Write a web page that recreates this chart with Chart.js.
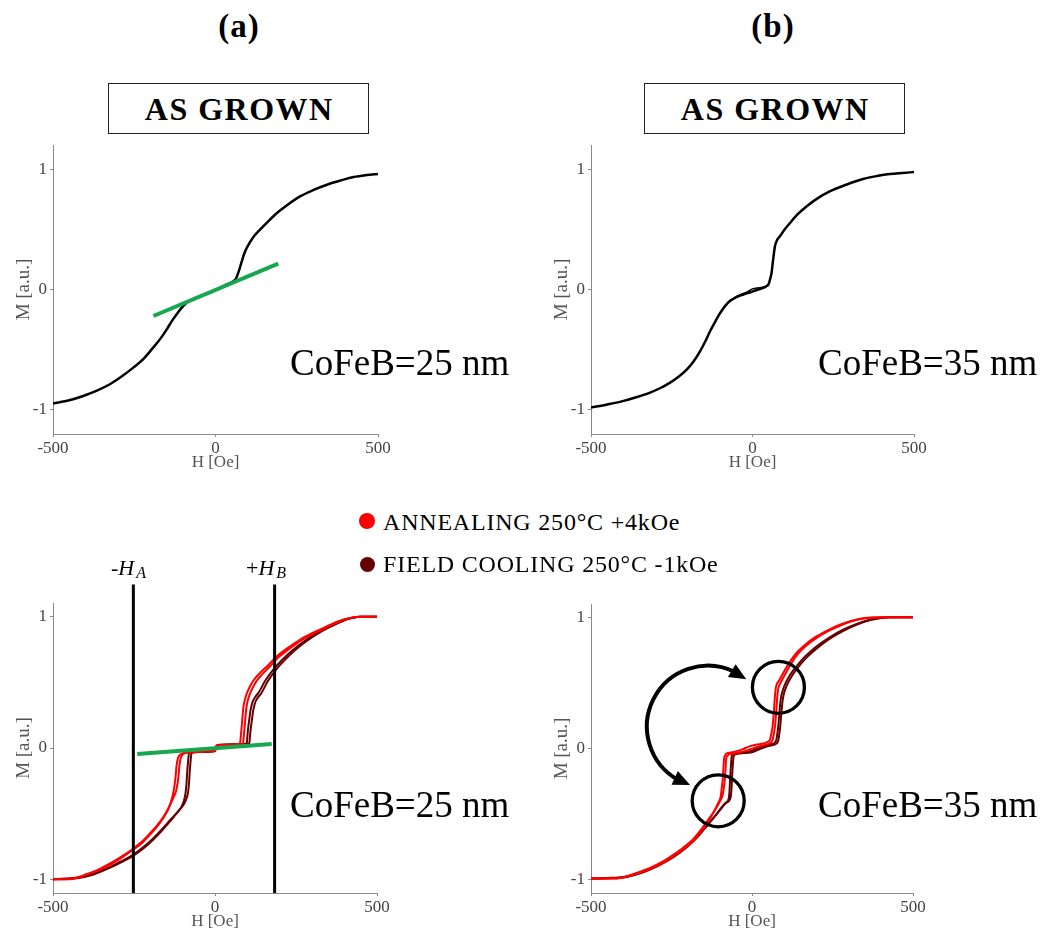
<!DOCTYPE html>
<html>
<head>
<meta charset="utf-8">
<script src="https://cdn.jsdelivr.net/npm/chart.js@4.4.1/dist/chart.umd.min.js"></script>
<style>
  body { margin: 0; background: #fff; }
  #fig { position: relative; width: 1046px; height: 937px; font-family: "Liberation Serif", serif; color: #000; overflow: hidden; }
  #fig canvas { position: absolute; }
  .lbl { position: absolute; white-space: nowrap; line-height: 1; }
  .panel { font-weight: bold; font-size: 33px; letter-spacing: 1px; transform: translate(-50%, -50%); }
  .tag { position: absolute; top: 83px; width: 261px; height: 51px; box-sizing: border-box; border: 1.3px solid #222;
         display: flex; align-items: center; justify-content: center; font-weight: bold; font-size: 32px;
         letter-spacing: 1.5px; padding-left: 1.5px; line-height: 1; }
  .sample { font-size: 37px; }
  .leg { font-size: 24px; letter-spacing: 0.8px; }
  .dot { position: absolute; border-radius: 50%; }
  .mark { font-size: 22px; }
  .mark i { font-style: italic; letter-spacing: 2px; }
  .mark sub { font-size: 16px; font-style: italic; position: relative; top: 3px; vertical-align: baseline; }
</style>
</head>
<body>
<div id="fig">
  <div class="lbl panel" style="left:239px;top:26px">(a)</div>
  <div class="lbl panel" style="left:773px;top:26px">(b)</div>
  <div class="tag" style="left:108px">AS GROWN</div>
  <div class="tag" style="left:644px">AS GROWN</div>

  <canvas id="grownA" width="400" height="344" style="left:0;top:130px"></canvas>
  <canvas id="grownB" width="400" height="344" style="left:538px;top:130px"></canvas>
  <canvas id="treatedA" width="400" height="393" style="left:0;top:540px"></canvas>
  <canvas id="treatedB" width="405" height="393" style="left:538px;top:540px"></canvas>

  <div class="lbl sample" style="left:290px;top:344px">CoFeB=25 nm</div>
  <div class="lbl sample" style="left:818px;top:344px">CoFeB=35 nm</div>
  <div class="lbl sample" style="left:290px;top:786px">CoFeB=25 nm</div>
  <div class="lbl sample" style="left:818px;top:786px">CoFeB=35 nm</div>

  <div class="dot" style="left:359px;top:513px;width:16px;height:16px;background:#ff0000"></div>
  <div class="lbl leg" style="left:383px;top:510px">ANNEALING 250°C +4kOe</div>
  <div class="dot" style="left:360px;top:557px;width:15px;height:15px;background:#650000"></div>
  <div class="lbl leg" style="left:383px;top:552px">FIELD COOLING 250°C -1kOe</div>

  <div class="lbl mark" style="left:111px;top:557px">-<i>H</i><sub>A</sub></div>
  <div class="lbl mark" style="left:246px;top:557px">+<i>H</i><sub>B</sub></div>
</div>

<script>
// axis ticks
const fieldTicks = [-500, 0, 500];
const magTicks = [-1, 0, 1];

// as grown, 25 nm
const grown25H = [-500, -450, -407, -365, -325, -290, -253, -220, -192, -170, -150, -135, -120, -105, -89, -70, -48, -25, -7, 10, 24, 40, 55, 63, 70, 76, 81, 88, 96, 115, 137, 160, 189, 220, 260, 300, 343, 385, 425, 465, 500];
const grown25M = [-0.947, -0.92, -0.884, -0.84, -0.787, -0.725, -0.649, -0.572, -0.483, -0.41, -0.331, -0.265, -0.207, -0.155, -0.11, -0.08, -0.055, -0.035, -0.014, 0.008, 0.028, 0.048, 0.069, 0.09, 0.138, 0.19, 0.235, 0.295, 0.345, 0.43, 0.497, 0.56, 0.635, 0.7, 0.773, 0.825, 0.87, 0.905, 0.934, 0.95, 0.959];

// as grown, 35 nm (main branch + small return branch near zero)
const grown35H = [-500, -450, -399, -360, -317, -285, -255, -228, -203, -182, -162, -146, -131, -118, -106, -95, -85, -72, -59, -43, -28, -12, 3, 18, 33, 45, 50, 55, 59, 64, 69.5, 76, 85, 100, 116, 140, 167, 200, 239, 290, 342, 385, 425, 465, 500];
const grown35M = [-0.981, -0.955, -0.925, -0.895, -0.856, -0.818, -0.773, -0.722, -0.663, -0.595, -0.511, -0.43, -0.345, -0.28, -0.221, -0.175, -0.138, -0.1, -0.077, -0.055, -0.041, -0.028, -0.014, 0.0, 0.014, 0.03, 0.045, 0.09, 0.138, 0.25, 0.359, 0.41, 0.442, 0.5, 0.552, 0.625, 0.69, 0.755, 0.815, 0.87, 0.917, 0.942, 0.959, 0.968, 0.975];
const grown35RetH = [-60, -40, -20, 0, 20, 40, 52];
const grown35RetM = [-0.072, -0.045, -0.025, 0.005, 0.015, 0.025, 0.045];

// annealing 250°C +4kOe, 25 nm (two branches)
const anneal25H = [-500, -448, -397, -360, -325, -290, -253, -225, -201, -180, -160, -145, -134, -128, -124, -121, -119, -114, -107, -80, -46, -10, 0, 5, 40, 77, 80, 82.5, 85, 88, 95, 103, 118, 139, 165, 191, 225, 263, 295, 325, 360, 397, 425, 449, 500];
const anneal25M = [-0.995, -0.995, -0.962, -0.928, -0.886, -0.835, -0.772, -0.72, -0.658, -0.6, -0.532, -0.47, -0.392, -0.33, -0.266, -0.2, -0.139, -0.075, -0.05, -0.03, -0.025, -0.02, -0.013, 0.02, 0.025, 0.033, 0.1, 0.165, 0.24, 0.316, 0.39, 0.443, 0.51, 0.57, 0.63, 0.696, 0.76, 0.823, 0.865, 0.899, 0.94, 0.975, 0.99, 0.995, 0.995];
const anneal25RetH = [-500, -448, -397, -360, -325, -290, -253, -225, -201, -180, -160, -145, -130, -120, -115, -112, -110, -105, -98, -80, -46, -10, 0, 5, 40, 86, 89, 91.5, 94, 97, 104, 112, 126, 146, 170, 195, 228, 265, 297, 327, 362, 398, 425, 449, 500];
const anneal25RetM = [-0.995, -0.993, -0.958, -0.922, -0.878, -0.826, -0.764, -0.71, -0.648, -0.59, -0.525, -0.462, -0.385, -0.325, -0.26, -0.195, -0.135, -0.07, -0.045, -0.035, -0.03, -0.025, -0.02, 0.015, 0.02, 0.028, 0.095, 0.16, 0.235, 0.31, 0.385, 0.435, 0.5, 0.56, 0.62, 0.686, 0.75, 0.815, 0.858, 0.894, 0.936, 0.972, 0.99, 0.995, 0.995];

// field cooling 250°C -1kOe, 25 nm
const cool25H = [-500, -450, -407, -365, -325, -290, -253, -220, -191, -165, -139, -118, -103, -96, -91, -88, -86, -83, -80, -40, 0, 5, 50, 98, 100, 103, 106, 110, 116, 125, 134, 155, 180, 210, 242, 278, 314, 355, 397, 425, 449, 500];
const cool25M = [-0.995, -0.99, -0.98, -0.95, -0.91, -0.868, -0.818, -0.76, -0.696, -0.63, -0.557, -0.495, -0.443, -0.4, -0.342, -0.27, -0.19, -0.1, -0.038, -0.03, -0.025, 0.018, 0.025, 0.033, 0.09, 0.165, 0.22, 0.291, 0.35, 0.39, 0.418, 0.51, 0.595, 0.675, 0.747, 0.815, 0.873, 0.925, 0.97, 0.988, 0.995, 0.995];
const cool25RetH = [-500, -450, -407, -365, -325, -290, -253, -220, -191, -165, -139, -115, -98, -89, -83, -80, -78, -75, -72, -40, 0, 5, 50, 106, 108, 111, 114, 118, 124, 133, 142, 162, 186, 215, 246, 281, 317, 357, 398, 425, 449, 500];
const cool25RetM = [-0.995, -0.99, -0.977, -0.945, -0.904, -0.86, -0.81, -0.75, -0.686, -0.62, -0.547, -0.485, -0.435, -0.39, -0.335, -0.26, -0.18, -0.09, -0.035, -0.028, -0.022, 0.02, 0.028, 0.036, 0.09, 0.16, 0.215, 0.285, 0.345, 0.385, 0.412, 0.502, 0.587, 0.667, 0.74, 0.808, 0.867, 0.92, 0.967, 0.987, 0.995, 0.995];

// annealing, 35 nm
const anneal35H = [-500, -419, -380, -347, -310, -275, -245, -213, -185, -161, -140, -120, -106, -97, -94, -91, -89, -87, -83, -79, -65, -48, -28, -6, 15, 35, 48, 56, 60, 64, 67, 69, 71, 74, 85, 97, 115, 138, 165, 200, 235, 273, 310, 345, 380, 407, 500];
const anneal35M = [-0.99, -0.99, -0.97, -0.944, -0.91, -0.868, -0.822, -0.767, -0.71, -0.64, -0.57, -0.489, -0.42, -0.362, -0.3, -0.235, -0.16, -0.084, -0.05, -0.038, -0.03, -0.02, -0.005, 0.018, 0.03, 0.038, 0.05, 0.068, 0.11, 0.17, 0.25, 0.32, 0.39, 0.461, 0.52, 0.575, 0.65, 0.727, 0.79, 0.853, 0.9, 0.942, 0.972, 0.992, 0.998, 1.0, 1.0];
const anneal35RetH = [-500, -419, -380, -347, -310, -275, -245, -213, -185, -161, -140, -117, -101, -91, -87, -84, -82, -80, -76, -72, -60, -45, -25, -4, 17, 37, 55, 63, 67, 71, 74, 76, 78, 81, 91, 103, 120, 142, 168, 203, 238, 276, 312, 347, 381, 407, 500];
const anneal35RetM = [-0.99, -0.988, -0.966, -0.938, -0.902, -0.858, -0.81, -0.754, -0.696, -0.626, -0.556, -0.476, -0.41, -0.352, -0.29, -0.225, -0.15, -0.075, -0.055, -0.045, -0.04, -0.035, -0.022, -0.005, 0.012, 0.025, 0.04, 0.06, 0.1, 0.16, 0.24, 0.31, 0.38, 0.45, 0.51, 0.565, 0.64, 0.718, 0.782, 0.846, 0.895, 0.938, 0.97, 0.99, 0.998, 1.0, 1.0];

// field cooling, 35 nm
const cool35H = [-500, -450, -399, -360, -326, -290, -254, -222, -192, -165, -140, -118, -99, -85, -73, -70, -68, -66, -63, -58, -48, -30, -6, 15, 35, 55, 70, 76, 79, 81.6, 85, 89, 94, 102, 118, 138, 165, 200, 240, 283, 325, 366, 400, 428, 500];
const cool35M = [-0.99, -0.987, -0.982, -0.96, -0.932, -0.892, -0.843, -0.79, -0.729, -0.662, -0.59, -0.525, -0.463, -0.42, -0.387, -0.33, -0.235, -0.15, -0.058, -0.04, -0.033, -0.028, -0.02, -0.002, 0.018, 0.03, 0.043, 0.07, 0.12, 0.17, 0.27, 0.372, 0.43, 0.486, 0.56, 0.625, 0.7, 0.777, 0.845, 0.904, 0.948, 0.98, 0.995, 1.0, 1.0];
const cool35RetH = [-500, -450, -399, -360, -326, -290, -254, -222, -192, -165, -140, -115, -95, -80, -67, -64, -62, -60, -57, -52, -44, -28, -4, 17, 37, 57, 76, 82, 85, 87.6, 91, 95, 100, 108, 124, 143, 170, 205, 244, 287, 328, 368, 402, 430, 500];
const cool35RetM = [-0.99, -0.986, -0.978, -0.955, -0.925, -0.884, -0.834, -0.78, -0.718, -0.652, -0.58, -0.515, -0.455, -0.412, -0.38, -0.32, -0.225, -0.14, -0.06, -0.045, -0.04, -0.035, -0.03, -0.012, 0.008, 0.022, 0.037, 0.065, 0.115, 0.165, 0.265, 0.365, 0.425, 0.48, 0.553, 0.618, 0.694, 0.77, 0.84, 0.9, 0.945, 0.978, 0.994, 1.0, 1.0];

// linear fits around zero field
const slopeGrownH = [-191, 193];
const slopeGrownM = [-0.22, 0.215];
const slopeTreatedH = [-240, 175];
const slopeTreatedM = [-0.045, 0.03];

// switching fields -HA and +HB, drawn from the bottom of the axes up past the top
const switchH = [-252, 184];
const switchSpan = [-1.1, 1.24];

// highlighted switching regions, 35 nm
const ringH = [82, -105];
const ringM = [0.466, -0.398];
// centre of the curved double arrow (H, M)
const arrowCentre = [-137, 0.166];

const RED = '#ff0000';
const DARK = '#650000';
const GREEN = '#17a84f';

Chart.defaults.font.family = '"Liberation Serif", serif';

function curve(H, M, color, width) {
  return {
    data: H.map((h, i) => ({ x: h, y: M[i] })),
    borderColor: color,
    borderWidth: width,
    pointRadius: 0,
    fill: false,
    cubicInterpolationMode: 'monotone'
  };
}

function straight(H, M, color, width) {
  return {
    data: H.map((h, i) => ({ x: h, y: M[i] })),
    borderColor: color,
    borderWidth: width,
    pointRadius: 0,
    fill: false,
    tension: 0,
    borderCapStyle: 'butt',
    clip: false
  };
}

function makePanel(id, yLim, pad, datasets, plugins) {
  return new Chart(document.getElementById(id), {
    type: 'line',
    data: { datasets },
    options: {
      responsive: false,
      animation: false,
      devicePixelRatio: 1,
      layout: { padding: pad },
      plugins: { legend: { display: false }, tooltip: { enabled: false } },
      scales: {
        x: {
          type: 'linear', min: -500, max: 500,
          afterBuildTicks: s => { s.ticks = fieldTicks.map(v => ({ value: v })); },
          afterFit: s => { s.height = 40; },
          grid: { drawOnChartArea: false, drawTicks: true, tickLength: 3, color: '#8a8a8a' },
          border: { color: '#8a8a8a', width: 1 },
          ticks: { color: '#444', font: { size: 17 }, padding: 1, maxRotation: 0, callback: v => String(v) },
          title: { display: true, text: 'H [Oe]', color: '#555', font: { size: 17 }, padding: { top: 0, bottom: 1 } }
        },
        y: {
          type: 'linear', min: -yLim, max: yLim,
          afterBuildTicks: s => { s.ticks = magTicks.map(v => ({ value: v })); },
          afterFit: s => { s.width = 40; },
          grid: { drawOnChartArea: false, drawTicks: true, tickLength: 3, color: '#8a8a8a' },
          border: { color: '#8a8a8a', width: 1 },
          ticks: { color: '#444', font: { size: 17 }, padding: 3, callback: v => String(v) },
          title: { display: true, text: 'M [a.u.]', color: '#555', font: { size: 19 }, padding: { top: 0, bottom: 0 } }
        }
      }
    },
    plugins: plugins || []
  });
}

// curved double arrow pointing at the two rings
const swapArrow = {
  id: 'swapArrow',
  afterDatasetsDraw(chart) {
    const { ctx, scales: { x, y } } = chart;
    const cx = x.getPixelForValue(arrowCentre[0]);
    const cy = y.getPixelForValue(arrowCentre[1]);
    const r = 61;
    const deg = Math.PI / 180;
    const tipTop = -51 * deg, tipBottom = 107 * deg, head = 17 / r;
    ctx.save();
    ctx.strokeStyle = '#000';
    ctx.fillStyle = '#000';
    ctx.lineWidth = 4;
    ctx.beginPath();
    ctx.arc(cx, cy, r, tipTop - head * 0.8, tipBottom + head * 0.8, true);
    ctx.stroke();
    const headAt = (tip, base) => {
      const tx = cx + r * Math.cos(tip), ty = cy + r * Math.sin(tip);
      const bx = cx + r * Math.cos(base), by = cy + r * Math.sin(base);
      const len = Math.hypot(tx - bx, ty - by);
      const ux = (tx - bx) / len, uy = (ty - by) / len;
      const w = 7.5;
      ctx.beginPath();
      ctx.moveTo(tx, ty);
      ctx.lineTo(bx - uy * w, by + ux * w);
      ctx.lineTo(bx + uy * w, by - ux * w);
      ctx.closePath();
      ctx.fill();
    };
    headAt(tipTop, tipTop - head);
    headAt(tipBottom, tipBottom + head);
    ctx.restore();
  }
};

makePanel('grownA', 1.2, { left: 13, top: 15, right: 22, bottom: 0 }, [
  straight(slopeGrownH, slopeGrownM, GREEN, 4),
  curve(grown25H, grown25M, '#000', 2.5)
]);

makePanel('grownB', 1.2, { left: 13, top: 15, right: 24, bottom: 0 }, [
  curve(grown35H, grown35M, '#000', 2.5),
  curve(grown35RetH, grown35RetM, '#000', 1.5)
]);

makePanel('treatedA', 1.1, { left: 13, top: 63, right: 23, bottom: 0 }, [
  straight([switchH[0], switchH[0]], switchSpan, '#000', 3),
  straight([switchH[1], switchH[1]], switchSpan, '#000', 3),
  straight(slopeTreatedH, slopeTreatedM, GREEN, 4),
  curve(anneal25H, anneal25M, RED, 2),
  curve(anneal25RetH, anneal25RetM, RED, 2),
  curve(cool25H, cool25M, DARK, 2),
  curve(cool25RetH, cool25RetM, DARK, 2)
]);

// the large ring markers widen the minimum padding, so the right padding is set above it
makePanel('treatedB', 1.1, { left: 13, top: 64, right: 30, bottom: 0 }, [
  {
    data: ringH.map((h, i) => ({ x: h, y: ringM[i] })),
    showLine: false,
    pointRadius: 26,
    pointBorderWidth: 3.3,
    pointBorderColor: '#000',
    pointBackgroundColor: 'rgba(0,0,0,0)'
  },
  curve(anneal35H, anneal35M, RED, 2),
  curve(anneal35RetH, anneal35RetM, RED, 2),
  curve(cool35H, cool35M, DARK, 2),
  curve(cool35RetH, cool35RetM, DARK, 2)
], [swapArrow]);
</script>
</body>
</html>
